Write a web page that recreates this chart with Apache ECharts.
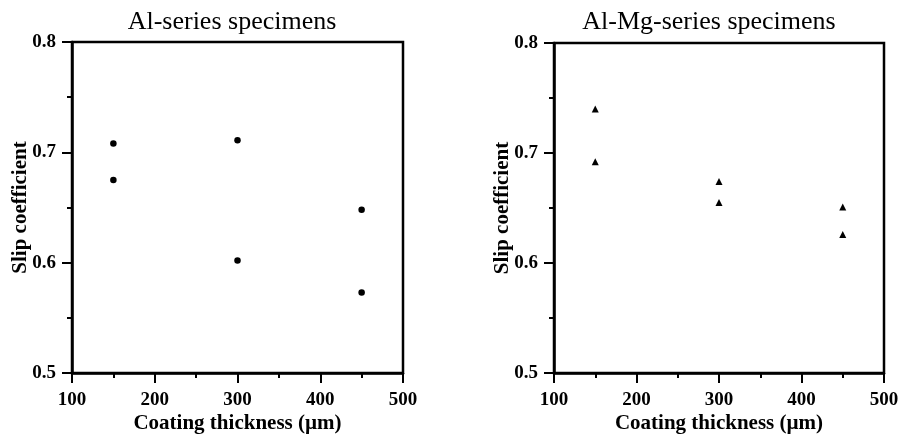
<!DOCTYPE html>
<html><head><meta charset="utf-8">
<script src="https://cdn.jsdelivr.net/npm/echarts@6/dist/echarts.min.js"></script>
<style>html,body{margin:0;padding:0;background:#fff}#c{width:899px;height:436px}</style>
</head><body><div id="c"></div>
<script>
const titles = ['Al-series specimens', 'Al-Mg-series specimens'];
const xName = 'Coating thickness (µm)';
const yName = 'Slip coefficient';
const alX = [150, 150, 300, 300, 450, 450];
const alY = [0.708, 0.675, 0.711, 0.602, 0.648, 0.573];
const almgX = [150, 150, 300, 300, 450, 450];
const almgY = [0.740, 0.692, 0.674, 0.655, 0.651, 0.626];

const serif = 'Liberation Serif';
const chart = echarts.init(document.getElementById('c'), null, {renderer: 'canvas'});

function xAx(i) {
  return {
    gridIndex: i, type: 'value', min: 100, max: 500, interval: 100,
    name: xName, nameLocation: 'middle', nameGap: 40, nameMoveOverlap: false,
    nameTextStyle: {fontFamily: serif, fontWeight: 'bold', fontSize: 21, color: '#000'},
    axisLine: {show: true, onZero: false, lineStyle: {color: '#000', width: 2.5}},
    axisTick: {show: true, inside: false, length: 10, lineStyle: {color: '#000', width: 2}},
    minorTick: {show: true, splitNumber: 2, length: 5, lineStyle: {color: '#000', width: 2}},
    axisLabel: {fontFamily: serif, fontWeight: 'bold', fontSize: 19, color: '#000', margin: 18},
    splitLine: {show: false}
  };
}
function yAx(i) {
  return {
    gridIndex: i, type: 'value', min: 0.5, max: 0.8, interval: 0.1,
    name: yName, nameLocation: 'middle', nameGap: 41, nameMoveOverlap: false,
    nameTextStyle: {fontFamily: serif, fontWeight: 'bold', fontSize: 21, color: '#000'},
    axisLine: {show: true, onZero: false, lineStyle: {color: '#000', width: 2.5}},
    axisTick: {show: true, inside: false, length: 10, lineStyle: {color: '#000', width: 2}},
    minorTick: {show: true, splitNumber: 2, length: 5, lineStyle: {color: '#000', width: 2}},
    axisLabel: {fontFamily: serif, fontWeight: 'bold', fontSize: 19, color: '#000', margin: 16,
      formatter: v => v.toFixed(1)},
    splitLine: {show: false}
  };
}

chart.setOption({
  animation: false,
  backgroundColor: '#fff',
  title: [
    {text: titles[0], left: 227, top: 4, textAlign: 'center',
      textStyle: {fontFamily: serif, fontWeight: 'normal', fontSize: 26, color: '#000'}},
    {text: titles[1], left: 704, top: 4, textAlign: 'center',
      textStyle: {fontFamily: serif, fontWeight: 'normal', fontSize: 26, color: '#000'}}
  ],
  grid: [
    {left: 72, top: 42, width: 331, height: 331, outerBoundsMode: 'none', containLabel: false,
      show: true, borderColor: '#000', borderWidth: 2.5, backgroundColor: 'transparent'},
    {left: 554, top: 43, width: 330, height: 330, outerBoundsMode: 'none', containLabel: false,
      show: true, borderColor: '#000', borderWidth: 2.5, backgroundColor: 'transparent'}
  ],
  xAxis: [xAx(0), xAx(1)],
  yAxis: [yAx(0), yAx(1)],
  series: [
    {type: 'scatter', xAxisIndex: 0, yAxisIndex: 0, symbol: 'circle', symbolSize: 6.5,
      itemStyle: {color: '#000', opacity: 1}, data: alX.map((x, i) => [x, alY[i]])},
    {type: 'scatter', xAxisIndex: 1, yAxisIndex: 1, symbol: 'triangle', symbolSize: 7,
      itemStyle: {color: '#000', opacity: 1}, data: almgX.map((x, i) => [x, almgY[i]])}
  ]
});
</script>
</body></html>
